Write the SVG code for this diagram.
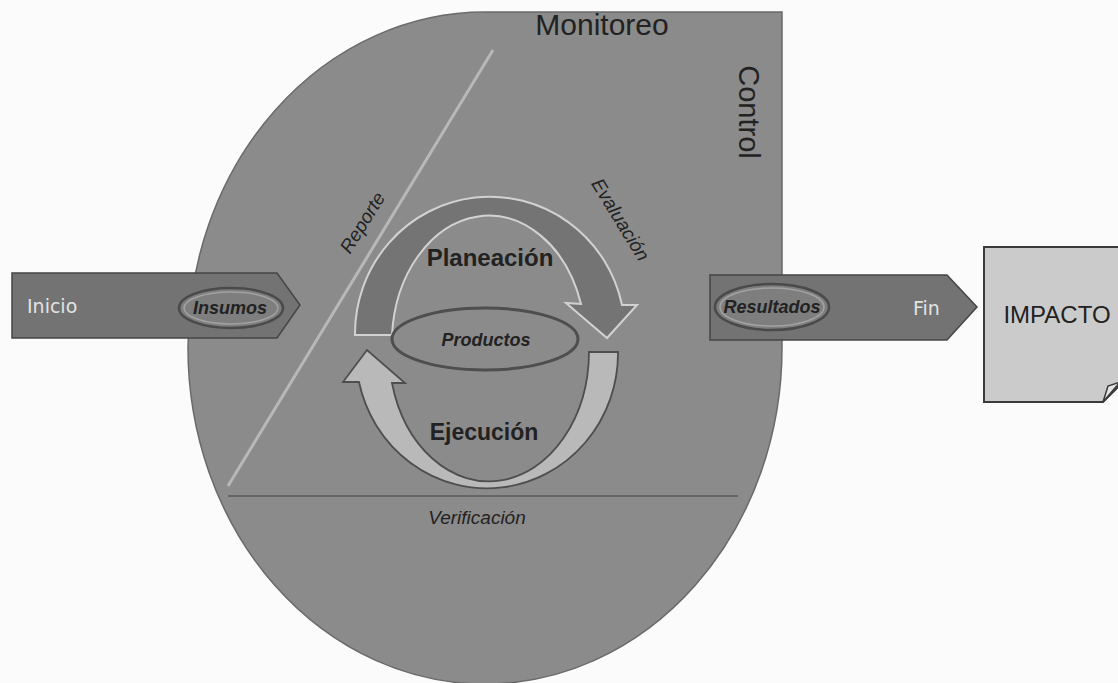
<svg xmlns="http://www.w3.org/2000/svg" width="1118" height="683" viewBox="0 0 1118 683">
<style>
.lbl{font-family:"Liberation Sans",Arial,sans-serif;fill:#222}
.it{font-style:italic}
.b{font-weight:bold}
.light{font-family:"DejaVu Sans","Liberation Sans",sans-serif;fill:#e2e2e2;font-size:19px}
.band{fill:#737373;stroke:#454545;stroke-width:1.5}
.oval{fill:#7e7e7e;stroke:#4a4a4a;stroke-width:2.5}
.ovalin{fill:none;stroke:#a2a2a2;stroke-width:1.5}
</style>
<rect x="0" y="0" width="1118" height="683" fill="#fbfbfb"/>
<g id="monitoreo-control">
<path d="M188 348 A297 336 0 0 1 485 12 L782 12 L782 348 A297 336 0 0 1 485 684 A297 336 0 0 1 188 348 Z" fill="#8b8b8b" stroke="#6a6a6a" stroke-width="1.5"/>
<text class="lbl" x="602" y="35" font-size="30" text-anchor="middle">Monitoreo</text>
<text class="lbl" font-size="29" text-anchor="middle" transform="translate(739,112) rotate(90)">Control</text>
</g>
<g id="connectors">
<line id="reporte-line" x1="493" y1="50" x2="228" y2="486" stroke="#b8b8b8" stroke-width="3"/>
<line id="verificacion-line" x1="228" y1="496" x2="738" y2="496" stroke="#666" stroke-width="2"/>
</g>
<g id="reporte"><text class="lbl it" font-size="19" text-anchor="middle" transform="translate(368,226) rotate(-58)">Reporte</text></g>
<g id="evaluacion"><text class="lbl it" font-size="19" text-anchor="middle" transform="translate(615,223) rotate(58.5)">Evaluación</text></g>
<g id="verificacion"><text class="lbl it" x="477" y="524" font-size="19" text-anchor="middle">Verificación</text></g>
<g id="planeacion">
<path d="M355 335 A135 137 0 0 1 622 305 L637 305 L607 338 L566 303 L581 304 A97 128 0 0 0 392 335 Z" fill="#747474" stroke="#d2d2d2" stroke-width="2"/>
<text class="lbl b" x="490" y="266" font-size="24" text-anchor="middle">Planeación</text>
</g>
<g id="ejecucion">
<path d="M618 352 A131 135 0 0 1 359 382 L343 382 L367 350 L405 383 L392 383 A100 130 0 0 0 589 352 Z" fill="#b9b9b9" stroke="#4e4e4e" stroke-width="1.8"/>
<text class="lbl b" x="484" y="440" font-size="23" text-anchor="middle">Ejecución</text>
</g>
<g id="productos">
<ellipse cx="485" cy="339" rx="93" ry="31" fill="#8b8b8b" stroke="#4e4e4e" stroke-width="3"/>
<text class="lbl it b" x="486" y="346" font-size="18" text-anchor="middle">Productos</text>
</g>
<g id="inicio">
<path class="band" d="M12 273 L277 273 L300 305 L277 338 L12 338 Z"/>
<text class="light" x="27" y="313">Inicio</text>
<ellipse class="oval" cx="231" cy="308" rx="52" ry="20"/>
<ellipse class="ovalin" cx="231" cy="308" rx="47" ry="16"/>
<text class="lbl it b" x="230" y="314" font-size="18" text-anchor="middle">Insumos</text>
</g>
<g id="fin">
<path class="band" d="M710 275 L947 275 L977 307 L947 340 L710 340 Z"/>
<ellipse class="oval" cx="772" cy="307" rx="57" ry="23"/>
<ellipse class="ovalin" cx="772" cy="307" rx="52" ry="19"/>
<text class="lbl it b" x="772" y="313" font-size="18" text-anchor="middle">Resultados</text>
<text class="light" x="913" y="315">Fin</text>
</g>
<g id="impacto">
<path d="M984 247 L1125 247 L1125 380 L1103 402 L984 402 Z" fill="#cbcbcb" stroke="#3a3a3a" stroke-width="2"/>
<path d="M1103 402 L1108 386 L1120 382 Z" fill="#e4e4e4" stroke="#3a3a3a" stroke-width="1.5"/>
<text class="lbl" x="1057" y="323" font-size="24" text-anchor="middle" fill="#333">IMPACTO</text>
</g>
</svg>
